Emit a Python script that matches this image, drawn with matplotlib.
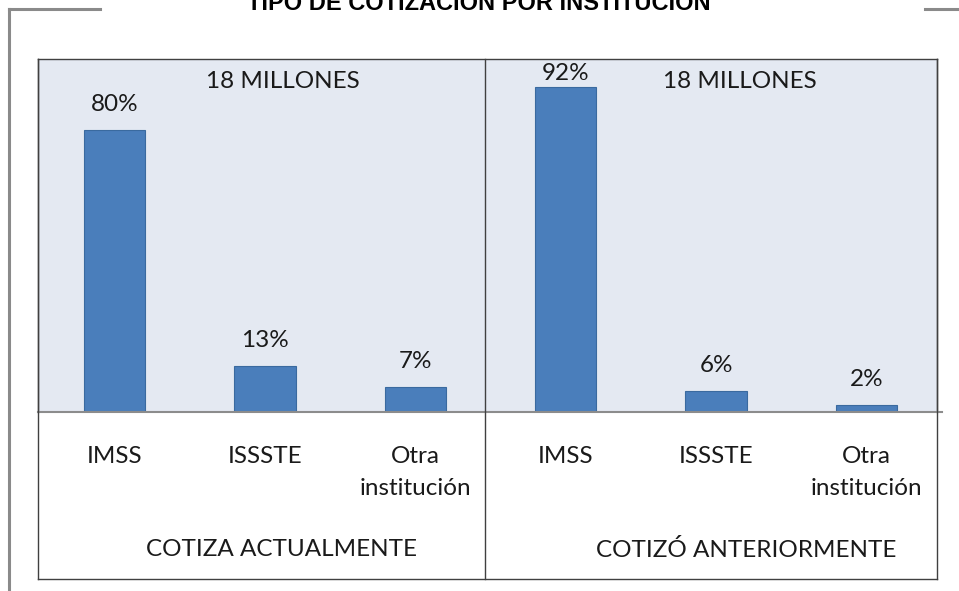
"""Tipo de cotizacion por institucion - bar chart in two panels"""

import matplotlib
matplotlib.use("Agg")
import matplotlib.pyplot as plt
from matplotlib.lines import Line2D

# data
categories = ["IMSS", "ISSSTE", "Otra\ninstitución"]
groups = ["COTIZA ACTUALMENTE", "COTIZÓ ANTERIORMENTE"]
actual = [80, 13, 7]
anterior = [92, 6, 2]
total_label = "18 MILLONES"
title = "TIPO DE COTIZACIÓN POR INSTITUCIÓN"

W, H = 959, 591
BAR = "#4A7EBB"
EDGE = "#3A6A9F"
BG = "#E4E9F2"
FONT = "Lato"
FS = 17.5

fig = plt.figure(figsize=(W / 100, H / 100), dpi=100)


def fx(px):
    return px / W


def fy(py):
    return 1 - py / H


# plot area (light blue part above the baseline)
ax = fig.add_axes([fx(38), fy(412), fx(937 - 38), (412 - 59) / H])
ax.set_facecolor(BG)

values = actual + anterior
xpos = list(range(len(values)))
ax.bar(xpos, values, width=0.41, color=BAR, edgecolor=EDGE, linewidth=0.8, zorder=2)
ax.set_xlim(-0.51, 5.47)
ax.set_ylim(0, 100)
ax.set_xticks([])
ax.set_yticks([])
for s in ["top", "left", "right"]:
    ax.spines[s].set_color("#404040")
    ax.spines[s].set_linewidth(1.0)
ax.spines["bottom"].set_visible(False)

# value labels over the bars, pushed down when they would leave the box
for x, v in zip(xpos, values):
    ly = min(v + 5.4, 94.1)
    ax.text(x, ly, "%d%%" % v, ha="center", va="baseline", fontsize=FS,
            family=FONT, color="#1a1a1a")

# "18 MILLONES" in each panel
ax.text(0.2725, 0.918, total_label, transform=ax.transAxes, ha="center",
        va="baseline", fontsize=FS, family=FONT, color="#1a1a1a")
ax.text(0.781, 0.918, total_label, transform=ax.transAxes, ha="center",
        va="baseline", fontsize=FS, family=FONT, color="#1a1a1a")

# category labels under the baseline
trans = ax.get_xaxis_transform()
for x, lab in zip(xpos, categories + categories):
    for i, line in enumerate(lab.split("\n")):
        base = 463 + 32 * i
        ax.text(x, (412 - base) / 353, line, transform=trans, ha="center",
                va="baseline", fontsize=FS, family=FONT, color="#1a1a1a",
                clip_on=False)

# group labels
fig.text(fx(281), fy(556), groups[0], ha="center", va="baseline",
         fontsize=FS, family=FONT, color="#1a1a1a")
fig.text(fx(746), fy(557), groups[1], ha="center", va="baseline",
         fontsize=FS, family=FONT, color="#1a1a1a")

# baseline, lower box and divider
lines = [
    ([38, 942], [412, 412], "#8c8c8c", 1.5),
    ([38, 38], [59, 579], "#404040", 1.0),
    ([937, 937], [59, 579], "#404040", 1.0),
    ([38, 937], [579, 579], "#404040", 1.0),
    ([484.5, 484.5], [59, 579], "#404040", 1.0),
    # outer grey frame
    ([9, 9], [9, 591], "#8a8a8a", 2.2),
    ([9, 100], [9, 9], "#8a8a8a", 2.2),
    ([925, 959], [9, 9], "#8a8a8a", 2.2),
]
for xs, ys, c, lw in lines:
    fig.add_artist(Line2D([fx(v) for v in xs], [fy(v) for v in ys],
                          color=c, linewidth=lw))

# title, mostly cut off at the top edge
fig.text(fx(479), fy(10), title, ha="center", va="baseline", fontsize=17,
         fontweight="bold", family="Liberation Sans", color="black")

fig.savefig("out.png", dpi=100)
